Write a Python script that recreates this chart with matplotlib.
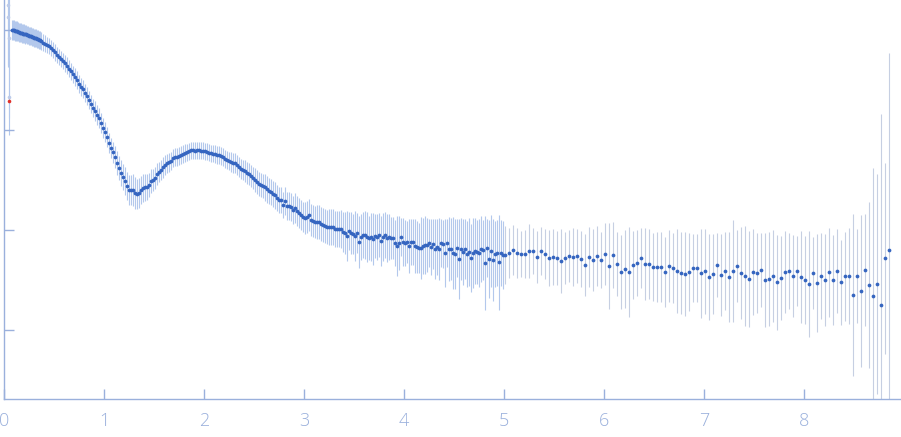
import matplotlib
matplotlib.use("Agg")
import matplotlib.pyplot as plt
import matplotlib.ticker as mticker
import numpy as np

# scattering vector grid (three sampling ranges seen in the picture)
q_low = np.round(np.arange(0.08, 0.375, 0.01), 2)     # 30 points
q_mid = np.round(np.arange(0.39, 4.995, 0.02), 2)     # 231 points
q_high = np.round(np.arange(5.01, 8.86, 0.04), 2)     # 97 points

# log10 intensity
logI_low = [3.002, 3.000, 2.997, 2.994, 2.990, 2.987, 2.983, 2.978, 2.974, 2.971,
            2.968, 2.965, 2.962, 2.958, 2.955, 2.951, 2.947, 2.943, 2.939, 2.935,
            2.931, 2.927, 2.923, 2.919, 2.915, 2.910, 2.906, 2.901, 2.896, 2.890]

logI_mid = [2.874, 2.862, 2.848, 2.835, 2.818, 2.798, 2.775, 2.754, 2.734, 2.712,
            2.688, 2.665, 2.640, 2.614, 2.586, 2.557, 2.528, 2.495, 2.464, 2.434,
            2.406, 2.374, 2.340, 2.303, 2.263, 2.224, 2.187, 2.152, 2.115, 2.071,
            2.024, 1.977, 1.925, 1.865, 1.820, 1.775, 1.725, 1.670, 1.617, 1.568,
            1.530, 1.490, 1.440, 1.400, 1.395, 1.400, 1.372, 1.362, 1.370, 1.402,
            1.420, 1.425, 1.427, 1.450, 1.485, 1.504, 1.524, 1.557, 1.578, 1.600,
            1.625, 1.645, 1.667, 1.677, 1.692, 1.717, 1.730, 1.733, 1.738, 1.752,
            1.764, 1.770, 1.777, 1.788, 1.797, 1.797, 1.794, 1.795, 1.797, 1.794,
            1.791, 1.787, 1.781, 1.772, 1.768, 1.763, 1.756, 1.750, 1.752, 1.741,
            1.727, 1.713, 1.700, 1.687, 1.676, 1.672, 1.665, 1.650, 1.627, 1.610,
            1.597, 1.586, 1.574, 1.557, 1.540, 1.521, 1.504, 1.483, 1.460, 1.445,
            1.440, 1.425, 1.405, 1.393, 1.377, 1.356, 1.345, 1.320, 1.304, 1.297,
            1.250, 1.293, 1.240, 1.240, 1.233, 1.200, 1.217, 1.190, 1.170, 1.150,
            1.127, 1.117, 1.127, 1.147, 1.100, 1.087, 1.080, 1.077, 1.080, 1.060,
            1.052, 1.043, 1.035, 1.027, 1.027, 1.027, 1.010, 1.007, 1.007,
            1.007, 0.983, 0.967, 0.940, 0.993, 0.973, 0.957, 0.940, 0.967, 0.883,
            0.927, 0.950, 0.950, 0.933, 0.917, 0.933, 0.907, 0.940, 0.927, 0.950,
            0.893, 0.933, 0.950, 0.917, 0.927, 0.917, 0.917, 0.867, 0.843, 0.867,
            0.927, 0.883, 0.867, 0.883, 0.843, 0.883, 0.883, 0.843, 0.833, 0.823,
            0.817, 0.843, 0.847, 0.847, 0.873, 0.833, 0.860, 0.813, 0.833, 0.813,
            0.873, 0.857, 0.767, 0.873, 0.813, 0.813, 0.767, 0.757, 0.823, 0.713,
            0.813, 0.777, 0.813, 0.760, 0.777, 0.717, 0.767, 0.793, 0.777, 0.767,
            0.813, 0.803, 0.667, 0.823, 0.707, 0.793, 0.700, 0.757, 0.773, 0.677,
            0.767, 0.747]

logI_high = [0.747, 0.770, 0.797, 0.767, 0.757, 0.757, 0.787, 0.787, 0.727, 0.787,
             0.757, 0.717, 0.727, 0.717, 0.687, 0.717, 0.737, 0.727, 0.737, 0.707,
             0.647, 0.727, 0.697, 0.737, 0.697, 0.757, 0.637, 0.747, 0.657, 0.577,
             0.607, 0.577, 0.647, 0.667, 0.717, 0.657, 0.657, 0.627, 0.627, 0.627,
             0.577, 0.637, 0.617, 0.587, 0.567, 0.557, 0.577, 0.617, 0.617, 0.567,
             0.587, 0.527, 0.557, 0.647, 0.547, 0.587, 0.527, 0.587, 0.637, 0.567,
             0.537, 0.507, 0.577, 0.567, 0.597, 0.497, 0.507, 0.537, 0.477, 0.517,
             0.577, 0.587, 0.537, 0.587, 0.527, 0.497, 0.457, 0.567, 0.467, 0.537,
             0.497, 0.577, 0.497, 0.587, 0.477, 0.537, 0.537, 0.347, 0.537, 0.387,
             0.597, 0.447, 0.337, 0.457, 0.247, 0.717, 0.797]

# error bar half-length in decades
err_low = [0.10, 0.10, 0.10, 0.10, 0.10, 0.10, 0.095, 0.095, 0.095, 0.095,
           0.095, 0.095, 0.095, 0.095, 0.09, 0.09, 0.09, 0.09, 0.09, 0.09,
           0.09, 0.09, 0.09, 0.09, 0.09, 0.09, 0.09, 0.09, 0.09, 0.09]

err_mid = [0.085, 0.085, 0.08, 0.08, 0.08, 0.08, 0.08, 0.08, 0.08, 0.08,
           0.08, 0.085, 0.085, 0.085, 0.085, 0.085, 0.09, 0.09, 0.09, 0.09,
           0.09, 0.09, 0.09, 0.09, 0.09, 0.09, 0.10, 0.10, 0.10, 0.10,
           0.10, 0.10, 0.10, 0.10, 0.10, 0.10, 0.11, 0.12, 0.12, 0.13,
           0.13, 0.14, 0.14, 0.15, 0.15, 0.16, 0.16, 0.15, 0.15, 0.14,
           0.14, 0.13, 0.13, 0.12, 0.12, 0.11, 0.11, 0.11, 0.10, 0.10,
           0.10, 0.10, 0.095, 0.095, 0.09, 0.09, 0.09, 0.09, 0.09, 0.09,
           0.09, 0.09, 0.085, 0.085, 0.085, 0.085, 0.085, 0.085, 0.085, 0.085,
           0.085, 0.085, 0.085, 0.085, 0.085, 0.085, 0.09, 0.09, 0.09, 0.09,
           0.09, 0.09, 0.09, 0.09, 0.10, 0.10, 0.10, 0.10, 0.10, 0.10,
           0.10, 0.11, 0.11, 0.11, 0.11, 0.11, 0.12, 0.12, 0.12, 0.12,
           0.12, 0.13, 0.13, 0.13, 0.13, 0.13, 0.13, 0.13, 0.13, 0.13,
           0.13, 0.14, 0.14, 0.14, 0.14, 0.14, 0.15, 0.15, 0.15, 0.15,
           0.15, 0.16, 0.16, 0.16, 0.16, 0.16, 0.16, 0.17, 0.17, 0.17,
           0.17, 0.17, 0.17, 0.18, 0.18, 0.18, 0.18, 0.18, 0.18,
           0.19, 0.20, 0.21, 0.25, 0.19, 0.21, 0.20, 0.25, 0.20, 0.26,
           0.23, 0.23, 0.24, 0.25, 0.22, 0.24, 0.26, 0.22, 0.23, 0.22,
           0.25, 0.24, 0.23, 0.24, 0.23, 0.21, 0.21, 0.23, 0.30, 0.27,
           0.19, 0.24, 0.23, 0.21, 0.27, 0.23, 0.23, 0.27, 0.26, 0.25,
           0.31, 0.28, 0.29, 0.27, 0.24, 0.28, 0.25, 0.30, 0.28, 0.31,
           0.24, 0.24, 0.34, 0.24, 0.32, 0.31, 0.36, 0.35, 0.29, 0.40,
           0.31, 0.33, 0.30, 0.33, 0.34, 0.34, 0.35, 0.33, 0.32, 0.34,
           0.33, 0.30, 0.47, 0.29, 0.39, 0.36, 0.41, 0.33, 0.33, 0.475,
           0.33, 0.34]

err_high = [0.29, 0.25, 0.25, 0.25, 0.23, 0.24, 0.27, 0.23, 0.26, 0.24,
            0.25, 0.28, 0.28, 0.27, 0.32, 0.26, 0.26, 0.29, 0.27, 0.28,
            0.31, 0.30, 0.31, 0.30, 0.28, 0.31, 0.43, 0.33, 0.32, 0.37,
            0.39, 0.45, 0.34, 0.33, 0.30, 0.36, 0.35, 0.34, 0.35, 0.35,
            0.35, 0.36, 0.35, 0.42, 0.41, 0.42, 0.39, 0.34, 0.34, 0.445,
            0.425, 0.43, 0.40, 0.32, 0.41, 0.39, 0.45, 0.51, 0.36, 0.46,
            0.50, 0.48, 0.43, 0.40, 0.37, 0.47, 0.47, 0.46, 0.475, 0.42,
            0.41, 0.38, 0.41, 0.35, 0.46, 0.44, 0.53, 0.36, 0.49, 0.43,
            0.46, 0.445, 0.45, 0.42, 0.425, 0.445, 0.48, 0.81, 0.47, 0.76,
            0.56, 0.83, 1.28, 1.10, 1.91, 0.955, 1.97]

# first few points (faded) and the red one
q_start = [0.035, 0.04, 0.045, 0.05]
logI_start = [3.25, 3.13, 2.92, 2.33]
err_start = [0.60, 0.50, 0.80, 0.38]
q_red = [0.05]
logI_red = [2.29]

BLUE = '#3565c0'
BAR_BLUE = '#b3c8ec'
BAR_GREY = '#c6cfe2'
AXIS = '#9ab0dc'


def bars(q, logi, err):
    logi = np.asarray(logi)
    err = np.asarray(err)
    i = 10 ** logi
    lo = i - 10 ** (logi - err)
    hi = 10 ** (logi + err) - i
    return np.asarray(q), i, [lo, hi]


fig = plt.figure(figsize=(9.01, 4.37), dpi=100)
ax = fig.add_axes([4.3 / 901, 38 / 437, 1 - 4.3 / 901, 399 / 437])

q_in = np.concatenate([q_low, q_mid])
li_in = logI_low + logI_mid
er_in = err_low + err_mid

x, y, e = bars(q_start, logI_start, err_start)
ax.errorbar(x, y, yerr=e, fmt='none', ecolor=BAR_BLUE, elinewidth=0.8, zorder=1)
x, y, e = bars(q_in, li_in, er_in)
ax.errorbar(x, y, yerr=e, fmt='none', ecolor=BAR_BLUE, elinewidth=0.8, zorder=1)
x, y, e = bars(q_high, logI_high, err_high)
ax.errorbar(x, y, yerr=e, fmt='none', ecolor=BAR_GREY, elinewidth=0.8, zorder=1)

ax.plot(q_start, 10 ** np.asarray(logI_start), 'o', ms=2.6, mew=0, color='#bccbea', zorder=2)
ax.plot(q_in, 10 ** np.asarray(li_in), 'o', ms=2.7, mew=0, color=BLUE, zorder=3)
ax.plot(q_high, 10 ** np.asarray(logI_high), 'o', ms=2.7, mew=0, color=BLUE, zorder=3)
ax.plot(q_red, 10 ** np.asarray(logI_red), 'o', ms=2.6, mew=0, color='#e0302a', zorder=4)

ax.set_yscale('log')
ax.set_xlim(0, 8.967)
ax.set_ylim(10 ** -0.69, 10 ** 3.3)
ax.set_xticks(range(0, 9))
ax.yaxis.set_major_locator(mticker.FixedLocator([1, 10, 100, 1000]))
ax.yaxis.set_minor_locator(mticker.NullLocator())
ax.yaxis.set_major_formatter(mticker.NullFormatter())

for side in ['top', 'right']:
    ax.spines[side].set_visible(False)
for side in ['left', 'bottom']:
    ax.spines[side].set_color(AXIS)
    ax.spines[side].set_linewidth(1.0)

ax.tick_params(axis='both', direction='in', length=7, width=1.0, color=AXIS,
               labelcolor=AXIS)
ax.tick_params(axis='x', pad=9, labelsize=13)
for lab in ax.get_xticklabels():
    lab.set_family(['Open Sans', 'DejaVu Sans'])
    lab.set_fontweight('light')
ax.set_facecolor('white')

plt.savefig('out.png', dpi=100)
